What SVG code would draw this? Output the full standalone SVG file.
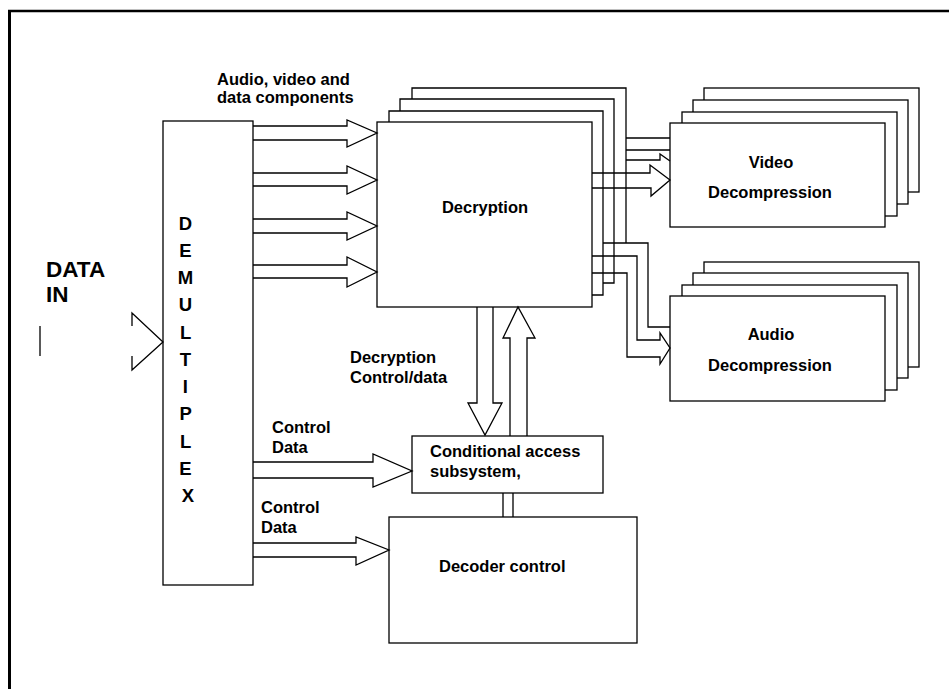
<svg xmlns="http://www.w3.org/2000/svg" width="949" height="689" viewBox="0 0 949 689">
<style>
  .ln{fill:none;stroke:#000;stroke-width:1.3;stroke-linejoin:miter}
  .bx{fill:#fff;stroke:#000;stroke-width:1.3}
  .t{font-family:"Liberation Sans",Arial,sans-serif;font-weight:bold;font-size:16.5px;fill:#000}
  .big{font-size:22.5px}
  .dm{font-size:18.5px}
  .mid{text-anchor:middle}
</style>
<rect x="0" y="0" width="949" height="689" fill="#fff"/>
<g id="frame">
  <line x1="8" y1="11" x2="949" y2="11" stroke="#000" stroke-width="2.5"/>
  <line x1="9.5" y1="10" x2="9.5" y2="689" stroke="#000" stroke-width="3"/>
</g>

<g id="data-in">
  <text class="t big" x="46" y="277">DATA</text>
  <text class="t big" x="46" y="302">IN</text>
</g>

<g id="demultiplex">
  <rect class="bx" x="163" y="121" width="90" height="464"/>
  <text class="t dm mid" x="188">
    <tspan x="188" y="230">D</tspan>
    <tspan x="188" y="257">E</tspan>
    <tspan x="188" y="284">M</tspan>
    <tspan x="188" y="311">U</tspan>
    <tspan x="188" y="339">L</tspan>
    <tspan x="188" y="366">T</tspan>
    <tspan x="188" y="393">I</tspan>
    <tspan x="188" y="420">P</tspan>
    <tspan x="188" y="448">L</tspan>
    <tspan x="188" y="475">E</tspan>
    <tspan x="188" y="502">X</tspan>
  </text>
</g>

<g id="decryption">
  <path class="ln" d="M412,99 V88 H626 V243"/>
  <path class="ln" d="M400,111 V99 H614 V283 H603"/>
  <path class="ln" d="M389,122 V111 H603 V295 H592"/>
  <rect class="bx" x="377" y="122" width="215" height="185"/>
  <text class="t mid" x="485" y="213">Decryption</text>
</g>

<g id="video-decompression">
  <rect class="bx" x="704" y="88" width="215" height="104"/>
  <rect class="bx" x="693" y="100" width="215" height="104"/>
  <rect class="bx" x="682" y="112" width="215" height="104"/>
  <rect class="bx" x="670" y="123" width="215" height="104"/>
  <text class="t mid" x="771" y="168">Video</text>
  <text class="t mid" x="770" y="198">Decompression</text>
</g>

<g id="audio-decompression">
  <rect class="bx" x="704" y="262" width="215" height="105"/>
  <rect class="bx" x="693" y="273" width="215" height="105"/>
  <rect class="bx" x="682" y="285" width="215" height="105"/>
  <rect class="bx" x="670" y="296" width="215" height="105"/>
  <text class="t mid" x="771" y="340">Audio</text>
  <text class="t mid" x="770" y="371">Decompression</text>
</g>

<g id="conditional-access">
  <rect class="bx" x="412" y="436" width="191" height="57"/>
  <text class="t" x="430" y="457">Conditional access</text>
  <text class="t" x="430" y="477">subsystem,</text>
</g>

<g id="decoder-control">
  <rect class="bx" x="389" y="517" width="248" height="126"/>
  <text class="t" x="439" y="572">Decoder control</text>
</g>

<g id="labels">
  <text class="t" x="217" y="85">Audio, video and</text>
  <text class="t" x="217" y="103">data components</text>
  <text class="t" x="350" y="363">Decryption</text>
  <text class="t" x="350" y="383">Control/data</text>
  <text class="t" x="272" y="433">Control</text>
  <text class="t" x="272" y="453">Data</text>
  <text class="t" x="261" y="513">Control</text>
  <text class="t" x="261" y="533">Data</text>
</g>

<g id="connectors">
  <!-- data in -->
  <line class="ln" x1="40" y1="326" x2="40" y2="356"/>
  <path class="ln" d="M132,326 V313 L163,342 L132,370 V356"/>
  <!-- demux to decryption -->
  <path class="ln" d="M253,126 H347 V120 L377,133 L347,147 V140 H253"/>
  <path class="ln" d="M253,173 H347 V166 L377,180 L347,194 V186 H253"/>
  <path class="ln" d="M253,219 H347 V212 L377,226 L347,240 V233 H253"/>
  <path class="ln" d="M253,265 H347 V257 L377,272 L347,287 V278 H253"/>
  <!-- control data arrows -->
  <path class="ln" d="M253,462 H373 V454 L412,471 L373,487 V478 H253"/>
  <path class="ln" d="M253,543 H356 V537 L389,550 L356,565 V557 H253"/>
  <!-- decryption <-> conditional access -->
  <path class="ln" d="M477,307 V403 H468 L485,435 L502,403 H493 V307"/>
  <path class="ln" d="M510,436 V338 H503 L518,307 L535,338 H527 V436"/>
  <!-- conditional access to decoder control -->
  <path class="ln" d="M503,493 V517 M513,493 V517"/>
  <!-- decryption to video -->
  <path class="ln" d="M626,138 H670 M626,150 H670 M626,160 H660 V154 L670,161"/>
  <path class="ln" d="M592,173 H650 V165 L670,180 L651,196 V188 H592"/>
  <!-- decryption to audio -->
  <path class="ln" d="M603,243 H648 V327 H670"/>
  <path class="ln" d="M592,256 H637 V340 H660 V333 L670,348 L660,364 V357 H627 V273 H592"/>
</g>
</svg>
